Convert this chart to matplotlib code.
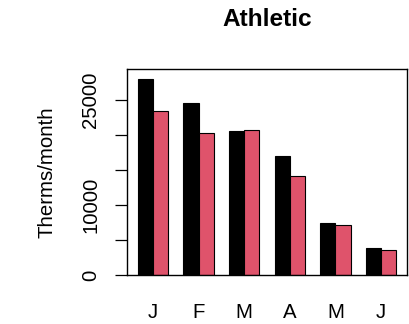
import numpy as np
import matplotlib
matplotlib.use("Agg")
import matplotlib.pyplot as plt

plt.rcParams["font.family"] = ["Liberation Sans", "DejaVu Sans"]

months = ["J", "F", "M", "A", "M", "J"]
series_a = [27900, 24500, 20500, 17000, 7500, 3900]
series_b = [23400, 20200, 20700, 14100, 7150, 3550]

yticks = [0, 5000, 10000, 15000, 20000, 25000]
ylabels = ["0", "", "10000", "", "", "25000"]

fig = plt.figure(figsize=(4.10, 3.24), dpi=100)
ax = fig.add_axes([0.3105, 0.150, 0.6815, 0.636])

# R barplot layout: bar width 1, one-bar gap between groups
idx = np.arange(len(months))
left_a = 1 + 3 * idx
left_b = 2 + 3 * idx
ax.bar(left_a, series_a, width=1, align="edge", color="black",
       edgecolor="black", linewidth=0.8)
ax.bar(left_b, series_b, width=1, align="edge", color="#DF536B",
       edgecolor="black", linewidth=0.8)

ax.set_xlim(0.32, 18.68)
ax.set_ylim(0, 29300)

ax.set_xticks(left_a + 1)
ax.set_xticklabels(months)
ax.tick_params(axis="x", length=0, pad=20, labelsize=14.7)

ax.set_yticks(yticks)
ax.set_yticklabels(ylabels, rotation=90, va="center")
ax.tick_params(axis="y", length=8.4, width=0.9, pad=11, labelsize=14.7)

for s in ax.spines.values():
    s.set_linewidth(1.0)

ax.set_ylabel("Therms/month", fontsize=14.7, labelpad=18)
ax.set_title("Athletic", fontsize=17.6, fontweight="bold", pad=31)

fig.savefig("out.png", dpi=100)
